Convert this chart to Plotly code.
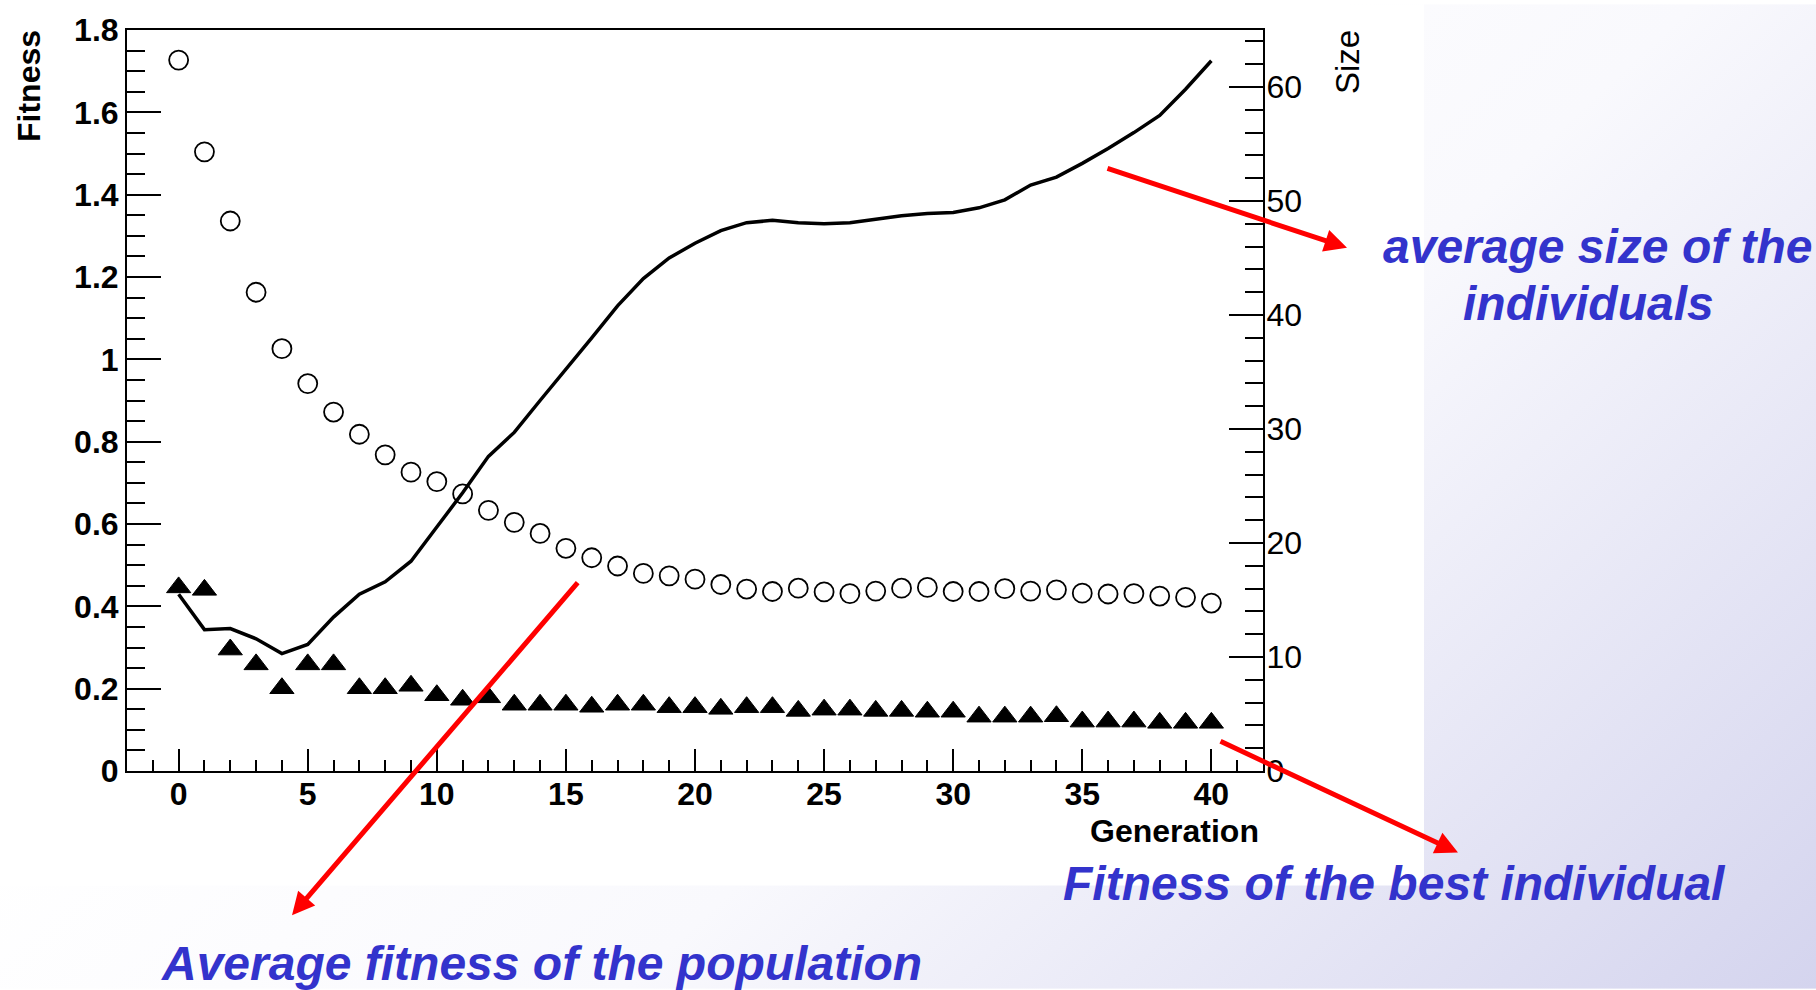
import base64
import plotly.graph_objects as go

# ---------------- data ----------------
generation = list(range(41))

avg_fitness = [1.727, 1.504, 1.336, 1.163, 1.026, 0.941, 0.872, 0.818, 0.768, 0.726,
               0.703, 0.673, 0.633, 0.604, 0.577, 0.541, 0.518, 0.498, 0.480, 0.474,
               0.466, 0.453, 0.442, 0.436, 0.444, 0.435, 0.431, 0.437, 0.444, 0.446,
               0.436, 0.436, 0.443, 0.437, 0.440, 0.432, 0.430, 0.431, 0.425, 0.422, 0.408]

best_fitness = [0.446, 0.440, 0.295, 0.259, 0.201, 0.259, 0.259, 0.201, 0.201, 0.207,
                0.184, 0.173, 0.179, 0.161, 0.161, 0.161, 0.156, 0.161, 0.161, 0.155,
                0.155, 0.151, 0.155, 0.155, 0.146, 0.149, 0.149, 0.146, 0.146, 0.144,
                0.144, 0.132, 0.132, 0.132, 0.133, 0.120, 0.120, 0.120, 0.117, 0.117, 0.117]

avg_size = [15.5, 12.4, 12.5, 11.6, 10.3, 11.1, 13.5, 15.5, 16.6, 18.4,
            21.4, 24.4, 27.6, 29.7, 32.5, 35.2, 38.0, 40.8, 43.2, 45.0,
            46.3, 47.4, 48.1, 48.3, 48.1, 48.0, 48.1, 48.4, 48.7, 48.9,
            49.0, 49.4, 50.1, 51.4, 52.1, 53.3, 54.6, 56.0, 57.5, 59.8, 62.3]

x_title = "Generation"
y_title = "Fitness"
y2_title = "Size"
label_size = ["average size of the", "individuals"]
label_best = "Fitness of the best individual"
label_avg = "Average fitness of the population"

# ---------------- layout geometry ----------------
W, H = 1816, 990
L, R, T, B = 127, 1263, 26, 771


def px(x):
    return (x - L) / (R - L)


def py(y):
    return (B - y) / (B - T)


FONT = "Liberation Sans, Arial, Helvetica, sans-serif"
BLUE = "#3333CC"
RED = "#FF0000"

fig = go.Figure()

fig.add_trace(go.Scatter(
    x=generation, y=avg_size, yaxis="y2", mode="lines",
    line=dict(color="black", width=3.5), hoverinfo="skip"))
fig.add_trace(go.Scatter(
    x=generation, y=avg_fitness, mode="markers",
    marker=dict(symbol="circle-open", size=19, color="black",
                line=dict(color="black", width=1.8)), hoverinfo="skip"))
fig.add_trace(go.Scatter(
    x=generation, y=best_fitness, mode="markers",
    marker=dict(symbol="triangle-up", size=21, color="black",
                line=dict(color="black", width=1)), hoverinfo="skip"))

# background gradient (slide) + white chart region
svg = ('<svg xmlns="http://www.w3.org/2000/svg" width="1816" height="990" '
       'viewBox="0 0 1816 990" preserveAspectRatio="none">'
       '<defs><linearGradient id="g" gradientUnits="userSpaceOnUse" '
       'x1="900" y1="0" x2="1816" y2="990">'
       '<stop offset="0" stop-color="#ffffff"/>'
       '<stop offset="0.4" stop-color="#f9f9fd"/>'
       '<stop offset="1" stop-color="#d4d4ee"/>'
       '</linearGradient></defs>'
       '<rect width="1816" height="990" fill="url(#g)"/></svg>')
src = "data:image/svg+xml;base64," + base64.b64encode(svg.encode()).decode()

fig.add_layout_image(dict(
    source=src, xref="paper", yref="paper",
    x=px(0), y=py(0), sizex=px(W) - px(0), sizey=py(0) - py(H),
    xanchor="left", yanchor="top", sizing="stretch", layer="below"))

fig.add_shape(type="rect", xref="paper", yref="paper",
              x0=px(0), x1=px(1424), y0=py(886), y1=py(0),
              fillcolor="white", line=dict(width=0), layer="below")

annotations = []
# axis titles
annotations.append(dict(text="<b>" + y_title + "</b>", x=px(29), y=py(24),
                        xref="paper", yref="paper", xanchor="center", yanchor="top",
                        textangle=-90, showarrow=False,
                        font=dict(family=FONT, size=32, color="black")))
annotations.append(dict(text=y2_title, x=px(1347), y=py(24),
                        xref="paper", yref="paper", xanchor="center", yanchor="top",
                        textangle=-90, showarrow=False,
                        font=dict(family=FONT, size=33, color="black")))
annotations.append(dict(text="<b>" + x_title + "</b>", x=px(1261), y=py(831),
                        xref="paper", yref="paper", xanchor="right", yanchor="middle",
                        showarrow=False,
                        font=dict(family=FONT, size=32, color="black")))

# blue labels
blue_font = dict(family=FONT, size=48, color=BLUE)
annotations.append(dict(text="<b><i>" + label_size[0] + "</i></b>", x=px(1598), y=py(244),
                        xref="paper", yref="paper", xanchor="center", yanchor="middle",
                        showarrow=False, font=blue_font))
annotations.append(dict(text="<b><i>" + label_size[1] + "</i></b>", x=px(1588), y=py(301),
                        xref="paper", yref="paper", xanchor="center", yanchor="middle",
                        showarrow=False, font=blue_font))
annotations.append(dict(text="<b><i>" + label_best + "</i></b>", x=px(1394), y=py(884),
                        xref="paper", yref="paper", xanchor="center", yanchor="middle",
                        showarrow=False, font=blue_font))
annotations.append(dict(text="<b><i>" + label_avg + "</i></b>", x=px(541), y=py(965),
                        xref="paper", yref="paper", xanchor="center", yanchor="middle",
                        showarrow=False, font=blue_font))

# red arrows: (tail_x, tail_y, head_x, head_y) in page pixels
arrows = [(1106, 165, 1347, 245), (1219, 741, 1458, 853), (579, 582, 292, 916)]
for tx, ty, hx, hy in arrows:
    annotations.append(dict(text="", x=px(hx), y=py(hy), xref="paper", yref="paper",
                            ax=tx - hx, ay=ty - hy, axref="pixel", ayref="pixel",
                            showarrow=True, arrowhead=2, arrowsize=0.9, arrowwidth=5,
                            arrowcolor=RED, standoff=0))

tick_bold = dict(family=FONT, size=32, color="black", weight="bold")

fig.update_layout(
    width=W, height=H, autosize=False,
    margin=dict(l=L, r=W - R, t=T, b=H - B, pad=0),
    paper_bgcolor="white", plot_bgcolor="rgba(0,0,0,0)",
    showlegend=False,
    annotations=annotations,
    xaxis=dict(range=[-2, 42], tickmode="linear", tick0=0, dtick=5,
               ticks="inside", ticklen=22, tickwidth=2, tickcolor="black",
               showline=True, linewidth=2, linecolor="black", mirror=True,
               showgrid=False, zeroline=False, tickfont=tick_bold,
               ticklabelstandoff=-6,
               minor=dict(tickmode="linear", tick0=0, dtick=1, ticks="inside",
                          ticklen=11, tickwidth=2, tickcolor="black", showgrid=False)),
    yaxis=dict(range=[0, 1.8], tickmode="linear", tick0=0, dtick=0.2,
               ticks="inside", ticklen=34, tickwidth=2, tickcolor="black",
               showline=True, linewidth=2, linecolor="black", mirror=True,
               showgrid=False, zeroline=False, tickfont=tick_bold,
               minor=dict(tickmode="linear", tick0=0, dtick=0.05, ticks="inside",
                          ticklen=18, tickwidth=2, tickcolor="black", showgrid=False)),
    yaxis2=dict(range=[0, 65], overlaying="y", side="right", anchor="x",
                tickmode="linear", tick0=0, dtick=10,
                ticks="inside", ticklen=34, tickwidth=2, tickcolor="black",
                showline=True, linewidth=2, linecolor="black",
                showgrid=False, zeroline=False, ticklabelstandoff=-5,
                tickfont=dict(family=FONT, size=32, color="black"),
                minor=dict(tickmode="linear", tick0=0, dtick=2, ticks="inside",
                           ticklen=18, tickwidth=2, tickcolor="black", showgrid=False)),
)

fig.write_html("out.html", config=dict(displayModeBar=False))
